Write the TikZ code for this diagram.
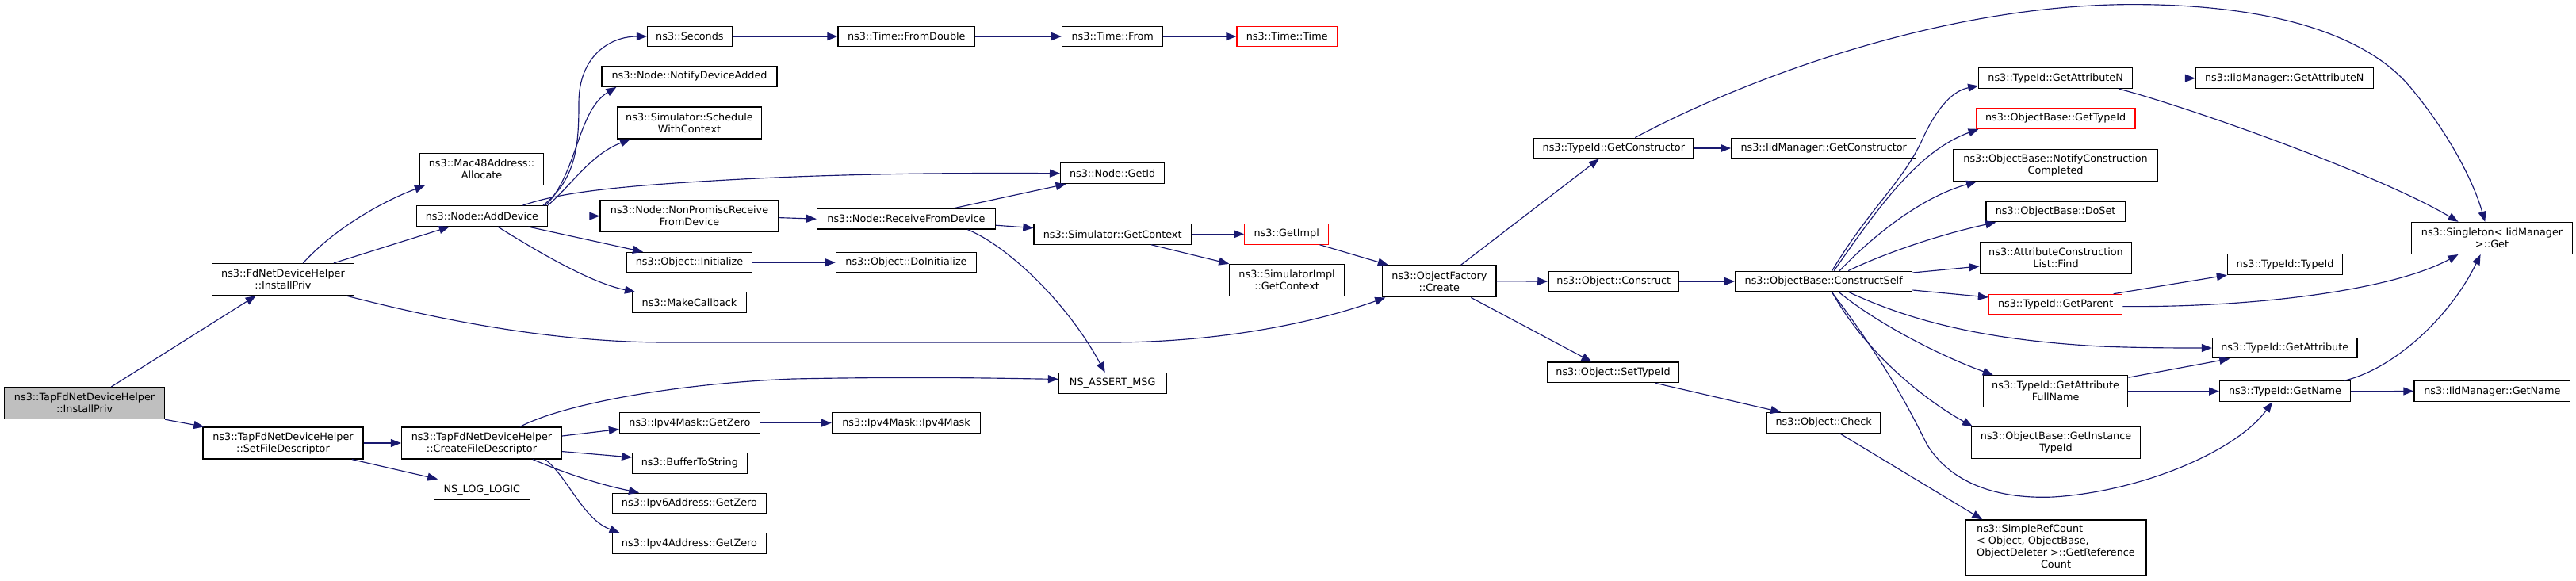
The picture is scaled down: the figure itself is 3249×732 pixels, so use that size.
\documentclass[tikz,border=0pt]{standalone}
\usepackage{fontspec}
\setmainfont{DejaVu Sans}
\usetikzlibrary{arrows.meta}
\definecolor{edgeblue}{HTML}{191970}
\definecolor{rootgray}{HTML}{BFBFBF}
\newcommand\nodefont{\fontsize{12.8pt}{15pt}\selectfont}
\newcommand\nd[7][]{\node[bx,minimum width=#5pt,minimum height=#6pt,#1] (#2) at (#3,#4) {#7};}
\tikzset{
  bx/.style={draw=black, line width=1.25pt, fill=white, inner sep=0pt, align=center, font=\nodefont},
  redbx/.style={draw=red},
  rootbx/.style={fill=rootgray},
  ed/.style={draw=edgeblue, line width=1.15pt, -{Triangle[length=13pt,width=10pt]}}
}
\begin{document}
\begin{tikzpicture}[x=1pt,y=-1pt]
\useasboundingbox (0,0) rectangle (3249,732);
% nodes
\nd[rootbx]{root}{106.6}{508.6}{202}{40}{ns3::TapFdNetDeviceHelper\\::InstallPriv}
\nd{fdinst}{357}{352.5}{179.6}{40}{ns3::FdNetDeviceHelper\\::InstallPriv}
\nd{mac}{607.5}{213.4}{155.8}{40}{ns3::Mac48Address::\\Allocate}
\nd{adddev}{607.9}{272.6}{165}{25.7}{ns3::Node::AddDevice}
\nd{seconds}{869.9}{46}{106.6}{25.7}{ns3::Seconds}
\nd{notify}{869.5}{96.4}{221}{25.7}{ns3::Node::NotifyDeviceAdded}
\nd{sched}{869.5}{155}{181.7}{40}{ns3::Simulator::Schedule\\WithContext}
\nd{nonprom}{869.5}{272.6}{225}{40}{ns3::Node::NonPromiscReceive\\FromDevice}
\nd{init}{869.5}{331.2}{157.8}{25.7}{ns3::Object::Initialize}
\nd{mkcb}{869.5}{381.6}{143.8}{25.7}{ns3::MakeCallback}
\nd{setfd}{357}{559}{202}{40}{ns3::TapFdNetDeviceHelper\\::SetFileDescriptor}
\nd{createfd}{607.5}{559}{202}{40}{ns3::TapFdNetDeviceHelper\\::CreateFileDescriptor}
\nd{nslog}{607.9}{618}{121.3}{25.7}{NS\_LOG\_LOGIC}
\nd{v4mz}{869.9}{533.6}{176.8}{25.7}{ns3::Ipv4Mask::GetZero}
\nd{buf}{869.9}{584.3}{144.5}{25.7}{ns3::BufferToString}
\nd{v6z}{869.5}{635}{194.3}{25.7}{ns3::Ipv6Address::GetZero}
\nd{v4az}{869.5}{685.6}{194.3}{25.7}{ns3::Ipv4Address::GetZero}
\nd{fromdbl}{1143.3}{46}{172.6}{25.7}{ns3::Time::FromDouble}
\nd{from}{1403.2}{46}{127}{25.7}{ns3::Time::From}
\nd[redbx]{ttime}{1623.2}{46}{126.3}{25.7}{ns3::Time::Time}
\nd{getid}{1403.2}{218.7}{131.2}{25.7}{ns3::Node::GetId}
\nd{recv}{1143}{276.2}{225}{25.7}{ns3::Node::ReceiveFromDevice}
\nd{doinit}{1143}{331.2}{177.3}{25.7}{ns3::Object::DoInitialize}
\nd{simctx}{1403.2}{295.3}{198.5}{25.7}{ns3::Simulator::GetContext}
\nd[redbx]{getimpl}{1622.7}{295.3}{105.9}{25.7}{ns3::GetImpl}
\nd{simimpl}{1623.1}{353.4}{144.5}{40}{ns3::SimulatorImpl\\::GetContext}
\nd{create}{1815.3}{354.8}{143.1}{40}{ns3::ObjectFactory\\::Create}
\nd{assert}{1403.2}{483.4}{135.4}{25.7}{NS\_ASSERT\_MSG}
\nd{v4mm}{1143}{533.6}{187.1}{25.7}{ns3::Ipv4Mask::Ipv4Mask}
\nd{getctor}{2035.3}{187}{201.3}{25.7}{ns3::TypeId::GetConstructor}
\nd{construct}{2035.3}{355}{164.9}{25.7}{ns3::Object::Construct}
\nd{settid}{2034.5}{469.9}{166.3}{25.7}{ns3::Object::SetTypeId}
\nd{iidctor}{2300.2}{187}{232.9}{25.7}{ns3::IidManager::GetConstructor}
\nd{cself}{2300.2}{355}{223.1}{25.7}{ns3::ObjectBase::ConstructSelf}
\nd{check}{2300.2}{533.4}{143.1}{25.7}{ns3::Object::Check}
\nd{getattrn}{2592.6}{98.7}{193.7}{25.7}{ns3::TypeId::GetAttributeN}
\nd[redbx]{gettid}{2592.6}{149.4}{200.7}{25.7}{ns3::ObjectBase::GetTypeId}
\nd{notifcc}{2592.6}{208.5}{258.1}{40}{ns3::ObjectBase::NotifyConstruction\\Completed}
\nd{doset}{2592.6}{267}{175.3}{25.7}{ns3::ObjectBase::DoSet}
\nd{acl}{2593}{325.6}{191.6}{40}{ns3::AttributeConstruction\\List::Find}
\nd[redbx]{getpar}{2592.6}{384.2}{168.3}{25.7}{ns3::TypeId::GetParent}
\nd{gafn}{2592.6}{493.7}{182.4}{40}{ns3::TypeId::GetAttribute\\FullName}
\nd{gitid}{2593}{558.8}{212.6}{40}{ns3::ObjectBase::GetInstance\\TypeId}
\nd{srefc}{2593}{691}{228}{70}{\begin{tabular}{@{}l@{}}ns3::SimpleRefCount\\< Object, ObjectBase,\\ObjectDeleter >::GetReference\\\multicolumn{1}{@{}c@{}}{Count}\end{tabular}}
\nd{iidattrn}{2881.3}{98.7}{223.8}{25.7}{ns3::IidManager::GetAttributeN}
\nd{tidtid}{2882}{333.6}{145.2}{25.7}{ns3::TypeId::TypeId}
\nd{getattr}{2881.7}{439}{182.4}{25.7}{ns3::TypeId::GetAttribute}
\nd{getname}{2882}{493.7}{164.8}{25.7}{ns3::TypeId::GetName}
\nd{single}{3143}{300.4}{202.8}{40}{ns3::Singleton< IidManager\\>::Get}
\nd{iidname}{3143.3}{493.5}{196.5}{25.7}{ns3::IidManager::GetName}
% edges
\draw[ed] ([xshift=33.7pt]root.north) -- ([xshift=-34.3pt]fdinst.south);
\draw[ed] (root.south east) -- ([xshift=2pt]setfd.north west);
\draw[ed] ([xshift=25.3pt]fdinst.north) .. controls (420,290) and (480,255) .. ([xshift=7pt]mac.south west);
\draw[ed] ([xshift=63.9pt]fdinst.north) -- ([xshift=-41.1pt]adddev.south);
\draw[ed] ([xshift=-10.6pt]fdinst.south east) .. controls (560,405) and (700,432) .. (842,432) -- (1400,432) .. controls (1530,432) and (1650,410) .. ([xshift=4.2pt]create.south west);
\draw[ed] ([xshift=-6pt]adddev.north east) .. controls (728,225) and (730,180) .. (730,130) .. controls (730,70) and (770,46) .. (seconds.west);
\draw[ed] ([xshift=-3pt]adddev.north east) .. controls (728,220) and (728,140) .. ([xshift=19pt]notify.south west);
\draw[ed] (adddev.north east) .. controls (722,232) and (745,195) .. ([xshift=17pt]sched.south west);
\draw[ed] ([xshift=51.5pt]adddev.north) .. controls (700,245) and (760,236) .. (900,228) .. controls (1050,219) and (1200,218) .. (getid.west);
\draw[ed] (adddev.east) -- (nonprom.west);
\draw[ed] ([xshift=58.5pt]adddev.south) -- ([xshift=21pt]init.north west);
\draw[ed] ([xshift=20pt]adddev.south) .. controls (690,325) and (750,358) .. ([xshift=4pt]mkcb.north west);
\draw[ed] ([yshift=-2pt]nonprom.east) -- (recv.west);
\draw[ed] ([xshift=59.9pt]recv.north) -- ([xshift=-58.6pt]getid.south);
\draw[ed] ([yshift=-8pt]recv.east) -- ([yshift=7.7pt]simctx.west);
\draw[ed] ([xshift=77.5pt]recv.south) .. controls (1270,310) and (1345,380) .. ([xshift=-9.5pt]assert.north);
\draw[ed] (init.east) -- (doinit.west);
\draw[ed] (seconds.east) -- (fromdbl.west);
\draw[ed] (fromdbl.east) -- (from.west);
\draw[ed] (from.east) -- (ttime.west);
\draw[ed] (simctx.east) -- (getimpl.west);
\draw[ed] ([xshift=48.8pt]simctx.south) -- (simimpl.north west);
\draw[ed] ([xshift=41.8pt]getimpl.south) -- ([xshift=7.7pt]create.north west);
\draw[ed] ([xshift=48.4pt]createfd.north) .. controls (710,510) and (850,484) .. (1000,478) .. controls (1150,475) and (1250,477) .. ([yshift=5pt]assert.west);
\draw[ed] ([yshift=9pt]createfd.east) -- ([yshift=-7.9pt]v4mz.west);
\draw[ed] ([yshift=-10.6pt]createfd.east) -- ([yshift=7.3pt]buf.west);
\draw[ed] ([xshift=64.5pt]createfd.south) .. controls (720,600) and (760,612) .. ([xshift=34.3pt]v6z.north west);
\draw[ed] ([xshift=80pt]createfd.south) .. controls (715,600) and (735,655) .. ([xshift=9.8pt]v4az.north west);
\draw[ed] (setfd.east) -- (createfd.west);
\draw[ed] ([xshift=87pt]setfd.south) -- ([xshift=5.6pt]nslog.north west);
\draw[ed] (v4mz.east) -- (v4mm.west);
\draw[ed] ([xshift=27.4pt]create.north) -- ([xshift=-18.6pt]getctor.south);
\draw[ed] (create.east) -- (construct.west);
\draw[ed] ([xshift=40pt]create.south) -- ([xshift=-26.9pt]settid.north);
\draw[ed] (getctor.east) -- (iidctor.west);
\draw[ed] ([xshift=27pt]getctor.north) .. controls (2200,100) and (2450,5.6) .. (2690,5.6) .. controls (2880,5.6) and (2990,50) .. (3040,110) .. controls (3090,170) and (3120,230) .. ([xshift=-8.8pt]single.north);
\draw[ed] (construct.east) -- (cself.west);
\draw[ed] ([xshift=53.7pt]settid.south) -- ([xshift=18.2pt]check.north west);
\draw[ed] ([xshift=20.3pt]check.south) -- ([xshift=21.8pt]srefc.north west);
\draw[ed] ([xshift=10.5pt]cself.north) .. controls (2360,260) and (2400,230) .. (2425,175) .. controls (2440,142) and (2460,115) .. ([yshift=-9.6pt]getattrn.west);
\draw[ed] ([xshift=13pt]cself.north) .. controls (2370,260) and (2420,190) .. ([xshift=4pt]gettid.south west);
\draw[ed] ([xshift=20pt]cself.north) .. controls (2360,300) and (2420,250) .. ([xshift=30pt]notifcc.south west);
\draw[ed] ([xshift=31pt]cself.north) .. controls (2380,318) and (2450,295) .. ([xshift=13pt]doset.south west);
\draw[ed] ([yshift=11pt]cself.east) -- ([yshift=-10.4pt]acl.west);
\draw[ed] ([yshift=-11pt]cself.east) -- ([yshift=9.2pt]getpar.west);
\draw[ed] ([xshift=31.5pt]cself.south) .. controls (2420,410) and (2520,430) .. (2650,437) .. controls (2700,439) and (2750,439) .. (getattr.west);
\draw[ed] ([xshift=19pt]cself.south) .. controls (2370,410) and (2450,450) .. ([xshift=13pt]gafn.north west);
\draw[ed] ([xshift=10.5pt]cself.south) .. controls (2350,440) and (2420,500) .. ([xshift=2pt]gitid.north west);
\draw[ed] ([xshift=10pt]cself.south) .. controls (2380,460) and (2410,520) .. (2430,560) .. controls (2460,610) and (2520,630) .. (2590,627) .. controls (2700,620) and (2820,570) .. ([xshift=-16pt]getname.south);
\draw[ed] (getattrn.east) -- (iidattrn.west);
\draw[ed] ([xshift=80pt]getattrn.south) .. controls (2760,135) and (3000,220) .. ([xshift=-42.5pt]single.north);
\draw[ed] ([xshift=73pt]getpar.north) -- (tidtid.south west);
\draw[ed] ([yshift=-2.4pt]getpar.east) .. controls (2850,388) and (3020,365) .. ([xshift=-42.5pt]single.south);
\draw[ed] ([yshift=17.5pt]gafn.east) -- ([xshift=22.4pt]getattr.south west);
\draw[ed] (gafn.east) -- (getname.west);
\draw[ed] (getname.east) -- (iidname.west);
\draw[ed] ([xshift=74.7pt]getname.north) .. controls (3020,465) and (3090,400) .. ([xshift=-14.4pt]single.south);
\end{tikzpicture}
\end{document}
